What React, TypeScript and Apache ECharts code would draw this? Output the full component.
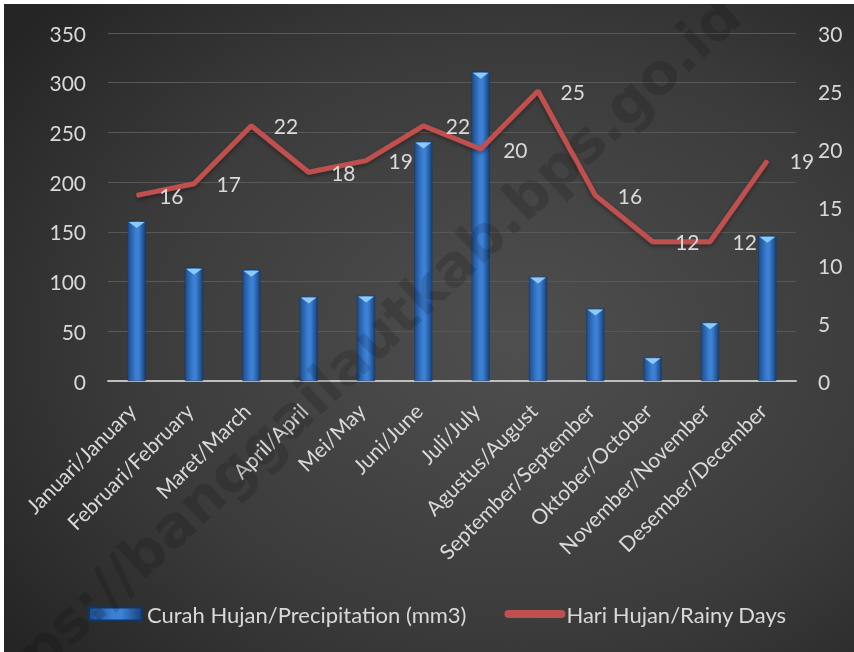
import React, { useEffect, useRef } from "react";
import * as echarts from "echarts";

const months = [
  "Januari/January",
  "Februari/February",
  "Maret/March",
  "April/April",
  "Mei/May",
  "Juni/June",
  "Juli/July",
  "Agustus/August",
  "September/September",
  "Oktober/October",
  "November/November",
  "Desember/December",
];

const precipitation = [161, 114, 112, 85, 86, 241, 311, 105, 73, 24, 59, 146];
const rainyDays = [16, 17, 22, 18, 19, 22, 20, 25, 16, 12, 12, 19];

const precipName = "Curah Hujan/Precipitation (mm3)";
const daysName = "Hari Hujan/Rainy Days";
const watermark = "https://banggailautkab.bps.go.id";

const FONT = "Lato, 'Noto Sans', sans-serif";
const TEXT = "#d9d9d9";

export default function App() {
  const ref = useRef<HTMLDivElement>(null);

  useEffect(() => {
    if (!ref.current) return;
    const chart = echarts.init(ref.current, null, { renderer: "svg" });

    const barGradient = new echarts.graphic.LinearGradient(0, 0, 1, 0, [
      { offset: 0, color: "#1d4d8f" },
      { offset: 0.45, color: "#3b7fd4" },
      { offset: 0.6, color: "#3e82d6" },
      { offset: 1, color: "#17427c" },
    ]);

    chart.setOption({
      animation: false,
      backgroundColor: new echarts.graphic.RadialGradient(0.6, 0.52, 0.75, [
        { offset: 0, color: "#4f4f4f" },
        { offset: 0.6, color: "#3b3b3b" },
        { offset: 1, color: "#252525" },
      ]),
      textStyle: { fontFamily: FONT },
      graphic: [
        {
          type: "text",
          x: 340,
          y: 362,
          rotation: 0.75,
          z: 100,
          silent: true,
          style: {
            text: watermark,
            fill: "rgba(0,0,0,0.14)",
            font: "bold 57px 'DejaVu Sans', sans-serif",
            align: "center",
            verticalAlign: "middle",
          },
        },
      ],
      grid: { left: 104, right: 58, top: 29, bottom: 271 },
      legend: {
        top: 594,
        left: 79,
        itemWidth: 53,
        itemHeight: 13,
        itemGap: 38,
        textStyle: { color: TEXT, fontSize: 22, fontFamily: FONT },
        data: [
          { name: precipName, icon: "rect" },
          {
            name: daysName,
            itemStyle: { opacity: 0 },
            lineStyle: { width: 8, cap: "round" },
          },
        ],
      },
      xAxis: {
        type: "category",
        data: months,
        axisLine: { lineStyle: { color: "#bfbfbf", width: 2 } },
        axisTick: { show: false },
        axisLabel: {
          rotate: 45,
          color: TEXT,
          fontSize: 21,
          margin: 21,
          padding: [0, 7, 0, 0],
          interval: 0,
        },
      },
      yAxis: [
        {
          type: "value",
          min: 0,
          max: 350,
          interval: 50,
          axisLabel: { color: TEXT, fontSize: 21, margin: 22 },
          splitLine: { lineStyle: { color: "#585858", width: 1 } },
          axisLine: { show: false },
        },
        {
          type: "value",
          min: 0,
          max: 30,
          interval: 5,
          axisLabel: { color: TEXT, fontSize: 21, margin: 22 },
          splitLine: { show: false },
          axisLine: { show: false },
        },
      ],
      series: [
        {
          name: precipName,
          type: "bar",
          data: precipitation,
          barWidth: 18,
          itemStyle: {
            color: barGradient,
            borderColor: "#123663",
            borderWidth: 0.5,
          },
        },
        {
          name: "bevel",
          type: "custom",
          data: precipitation.map((v, i) => [i, v]),
          z: 3,
          silent: true,
          renderItem: (params: any, api: any) => {
            const p = api.coord([api.value(0), api.value(1)]);
            const hw = 8;
            return {
              type: "polygon",
              shape: {
                points: [
                  [p[0] - hw, p[1] + 1],
                  [p[0] + hw, p[1] + 1],
                  [p[0], p[1] + 7],
                ],
              },
              style: { fill: "#8ccaf7" },
            };
          },
        },
        {
          name: daysName,
          type: "line",
          yAxisIndex: 1,
          data: rainyDays,
          symbol: "circle",
          symbolSize: 1,
          z: 4,
          lineStyle: {
            color: "#c0504d",
            width: 5,
            shadowColor: "rgba(0,0,0,0.4)",
            shadowBlur: 4,
            shadowOffsetY: 2,
          },
          itemStyle: { color: "#c0504d" },
          label: {
            show: true,
            position: "right",
            distance: 22,
            color: TEXT,
            fontSize: 21,
            fontFamily: FONT,
          },
        },
      ],
    });

    return () => chart.dispose();
  }, []);

  return (
    <div
      ref={ref}
      style={{ position: "fixed", left: 4, top: 4, width: 850, height: 648 }}
    />
  );
}
